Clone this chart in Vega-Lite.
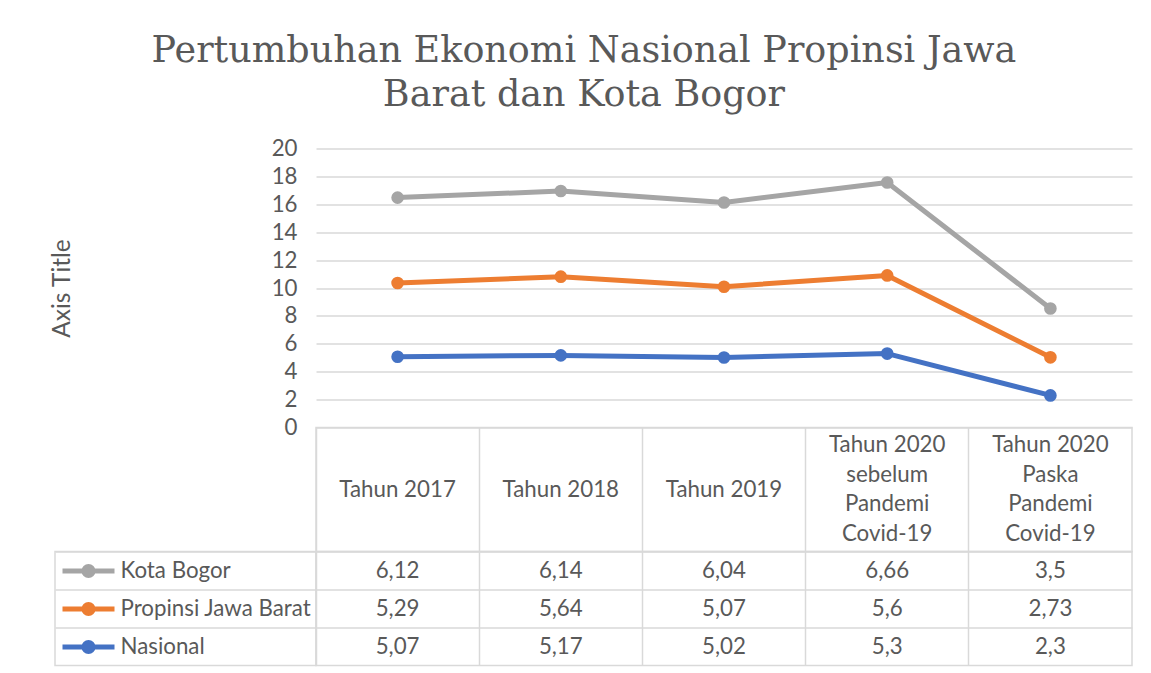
{
  "$schema": "https://vega.github.io/schema/vega-lite/v6.json",
  "background": "white",
  "autosize": {"type": "pad"},
  "padding": {"left": 49, "top": 32.5, "right": 19, "bottom": 9},
  "config": {
    "font": "Lato",
    "view": {"stroke": null},
    "locale": {"number": {"decimal": ",", "thousands": ".", "grouping": [3], "currency": ["", ""]}},
    "axis": {"labelFont": "Lato", "labelColor": "#595959", "titleFont": "Lato", "titleColor": "#595959"},
    "legend": {"labelFont": "Lato"}
  },
  "title": {
    "text": ["Pertumbuhan Ekonomi Nasional Propinsi Jawa", "Barat dan Kota Bogor"],
    "font": "DejaVu Serif",
    "fontSize": 36.5,
    "fontWeight": "normal",
    "color": "#595959",
    "lineHeight": 44,
    "anchor": "middle",
    "dx": -7,
    "offset": 24.5
  },
  "datasets": {
    "d": [
      {"cat": "Tahun 2017", "series": "Kota Bogor", "value": 6.12},
      {"cat": "Tahun 2018", "series": "Kota Bogor", "value": 6.14},
      {"cat": "Tahun 2019", "series": "Kota Bogor", "value": 6.04},
      {"cat": "Tahun 2020\nsebelum\nPandemi\nCovid-19", "series": "Kota Bogor", "value": 6.66},
      {"cat": "Tahun 2020\nPaska\nPandemi\nCovid-19", "series": "Kota Bogor", "value": 3.5},
      {"cat": "Tahun 2017", "series": "Propinsi Jawa Barat", "value": 5.29},
      {"cat": "Tahun 2018", "series": "Propinsi Jawa Barat", "value": 5.64},
      {"cat": "Tahun 2019", "series": "Propinsi Jawa Barat", "value": 5.07},
      {"cat": "Tahun 2020\nsebelum\nPandemi\nCovid-19", "series": "Propinsi Jawa Barat", "value": 5.6},
      {"cat": "Tahun 2020\nPaska\nPandemi\nCovid-19", "series": "Propinsi Jawa Barat", "value": 2.73},
      {"cat": "Tahun 2017", "series": "Nasional", "value": 5.07},
      {"cat": "Tahun 2018", "series": "Nasional", "value": 5.17},
      {"cat": "Tahun 2019", "series": "Nasional", "value": 5.02},
      {"cat": "Tahun 2020\nsebelum\nPandemi\nCovid-19", "series": "Nasional", "value": 5.3},
      {"cat": "Tahun 2020\nPaska\nPandemi\nCovid-19", "series": "Nasional", "value": 2.3}
    ]
  },
  "columns": 2,
  "spacing": 0,
  "align": "each",
  "bounds": "flush",
  "resolve": {"scale": {"color": "independent", "x": "independent", "y": "independent"}, "legend": {"color": "independent"}},
  "concat": [
    {
      "width": 261, "height": 279,
      "data": {"values": []},
      "mark": "point"
    },
    {
      "width": 816, "height": 279,
      "data": {"name": "d"},
      "transform": [
        {"calculate": "indexof(['Nasional','Propinsi Jawa Barat','Kota Bogor'], datum.series)", "as": "k"},
        {"stack": "value", "groupby": ["cat"], "sort": [{"field": "k", "order": "ascending"}], "as": ["v0", "v1"]}
      ],
      "mark": {"type": "line", "strokeWidth": 5, "strokeCap": "round", "strokeJoin": "round", "point": {"filled": true, "size": 160, "opacity": 1}},
      "encoding": {
        "x": {"field": "cat", "type": "nominal", "sort": null, "scale": {"type": "point", "padding": 0.5}, "axis": null},
        "y": {
          "field": "v1", "type": "quantitative",
          "scale": {"domain": [0, 20], "nice": false, "zero": true},
          "axis": {
            "values": [0, 2, 4, 6, 8, 10, 12, 14, 16, 18, 20],
            "grid": true, "gridColor": "#d9d9d9", "gridWidth": 1.5,
            "domain": false, "ticks": false, "tickSize": 0,
            "labelFontSize": 22.3, "labelPadding": 19,
            "title": "Axis Title", "titleFontSize": 24.5, "titleFontWeight": "normal", "titlePadding": 197
          }
        },
        "color": {
          "field": "series", "type": "nominal",
          "scale": {"domain": ["Kota Bogor", "Propinsi Jawa Barat", "Nasional"], "range": ["#a5a5a5", "#ed7d31", "#4472c4"]},
          "legend": null
        }
      }
    },
    {
      "width": 261, "height": 124,
      "data": {"values": []},
      "mark": "point"
    },
    {
      "width": 816, "height": 124,
      "view": {"stroke": "#d9d9d9", "strokeWidth": 1.5},
      "data": {"name": "d"},
      "transform": [{"filter": "datum.series === 'Nasional'"}],
      "encoding": {
        "x": {
          "field": "cat", "type": "nominal", "sort": null,
          "scale": {"type": "band", "paddingInner": 0, "paddingOuter": 0},
          "axis": {"orient": "top", "title": null, "labels": false, "ticks": false, "domain": false, "grid": true, "bandPosition": 0, "gridColor": "#d9d9d9", "gridWidth": 1.5}
        },
        "text": {"field": "cat", "type": "nominal"}
      },
      "layer": [
        {
          "transform": [{"filter": "indexof(datum.cat, '\\n') < 0"}],
          "mark": {"type": "text", "fontSize": 22.3, "color": "#595959", "baseline": "middle"}
        },
        {
          "transform": [{"filter": "indexof(datum.cat, '\\n') >= 0"}],
          "mark": {"type": "text", "lineBreak": "\n", "fontSize": 22.3, "color": "#595959", "lineHeight": 29.5, "baseline": "middle", "dy": -44.25}
        }
      ]
    },
    {
      "width": 261, "height": 114,
      "view": {"stroke": "#d9d9d9", "strokeWidth": 1.5},
      "data": {"name": "d"},
      "transform": [{"filter": "datum.cat === 'Tahun 2017'"}],
      "mark": {"type": "point", "opacity": 0},
      "encoding": {
        "y": {
          "field": "series", "type": "nominal", "sort": ["Kota Bogor", "Propinsi Jawa Barat", "Nasional"],
          "scale": {"type": "band", "paddingInner": 0, "paddingOuter": 0},
          "axis": {"title": null, "labels": false, "ticks": false, "domain": false, "grid": true, "bandPosition": 0, "gridColor": "#d9d9d9", "gridWidth": 1.5}
        },
        "color": {
          "field": "series", "type": "nominal",
          "scale": {"domain": ["Kota Bogor", "Propinsi Jawa Barat", "Nasional"], "range": ["#a5a5a5", "#ed7d31", "#4472c4"]},
          "legend": {
            "orient": "top-left", "offset": 6.5, "padding": 0, "title": null,
            "symbolType": "M-1.2,0L4,0M1.4,-0.45A0.45,0.45,0,1,1,1.4,0.45A0.45,0.45,0,1,1,1.4,-0.45M1.4,-0.2A0.2,0.2,0,1,1,1.4,0.2A0.2,0.2,0,1,1,1.4,-0.2",
            "symbolSize": 400, "symbolStrokeWidth": 5, "symbolOpacity": 1,
            "labelFontSize": 22.3, "labelColor": "#595959", "labelOffset": 33.5, "rowPadding": 9,
            "labelLimit": 400,
            "encode": {"symbols": {"update": {"opacity": {"value": 1}, "strokeCap": {"value": "round"}}}}
          }
        }
      }
    },
    {
      "width": 816, "height": 114,
      "view": {"stroke": "#d9d9d9", "strokeWidth": 1.5},
      "data": {"name": "d"},
      "mark": {"type": "text", "fontSize": 22.3, "color": "#595959", "baseline": "middle"},
      "encoding": {
        "x": {
          "field": "cat", "type": "nominal", "sort": null,
          "scale": {"type": "band", "paddingInner": 0, "paddingOuter": 0},
          "axis": {"orient": "top", "title": null, "labels": false, "ticks": false, "domain": false, "grid": true, "bandPosition": 0, "gridColor": "#d9d9d9", "gridWidth": 1.5}
        },
        "y": {
          "field": "series", "type": "nominal", "sort": ["Kota Bogor", "Propinsi Jawa Barat", "Nasional"],
          "scale": {"type": "band", "paddingInner": 0, "paddingOuter": 0},
          "axis": {"title": null, "labels": false, "ticks": false, "domain": false, "grid": true, "bandPosition": 0, "gridColor": "#d9d9d9", "gridWidth": 1.5}
        },
        "text": {"field": "value", "type": "quantitative", "format": ".3~g"}
      }
    }
  ]
}
